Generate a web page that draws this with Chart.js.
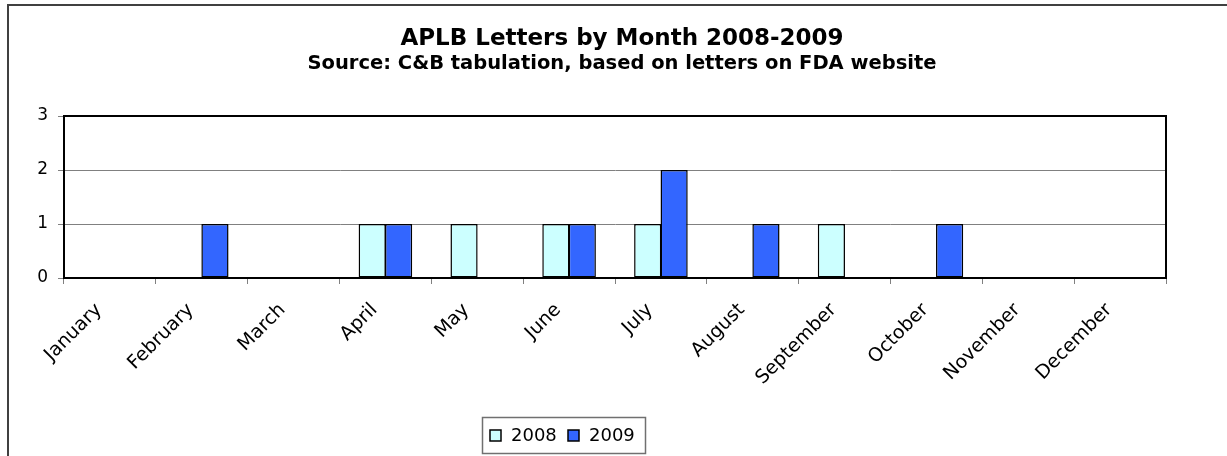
<!DOCTYPE html>
<html>
<head>
<meta charset="utf-8">
<script src="https://cdn.jsdelivr.net/npm/chart.js@4.4.1/dist/chart.umd.min.js"></script>
<style>
html,body{margin:0;padding:0;background:#fff;}
canvas{display:block;}
</style>
</head>
<body>
<canvas id="c" width="1227" height="456"></canvas>
<script>
// ---- data ----
const months = ['January','February','March','April','May','June','July','August','September','October','November','December'];
const letters2008 = [0,0,0,1,1,1,1,0,1,0,0,0];
const letters2009 = [0,1,0,1,0,1,2,1,0,1,0,0];
const yTicks = [0,1,2,3];
const seriesNames = ['2008','2009'];
const seriesColors = ['#CCFFFF','#3366FF'];
const titleText = 'APLB Letters by Month 2008-2009';
const subtitleText = 'Source: C&B tabulation, based on letters on FDA website';

const FONT = 'DejaVu Sans';

const decor = {
  id: 'decor',
  afterLayout(chart) {
    chart.boxes.filter(b => b.position === 'top').forEach(b => { b.left += 39; b.right += 39; });
  },
  beforeDraw(chart) {
    const ctx = chart.ctx;
    ctx.save();
    ctx.fillStyle = '#ffffff';
    ctx.fillRect(0, 0, chart.width, chart.height);
    ctx.strokeStyle = '#404040';
    ctx.lineWidth = 2;
    ctx.strokeRect(8, 5, 1300, 600);
    ctx.restore();
  },
  afterDatasetsDraw(chart) {
    const a = chart.chartArea, ctx = chart.ctx;
    ctx.save();
    ctx.strokeStyle = '#000';
    ctx.lineWidth = 2;
    ctx.strokeRect(a.left, a.top, a.right - a.left, a.bottom - a.top);
    ctx.restore();
  },
  afterDraw(chart) {
    const ctx = chart.ctx;
    ctx.save();
    ctx.strokeStyle = '#707070';
    ctx.lineWidth = 1.5;
    ctx.strokeRect(482.5, 417.5, 163, 36);
    ctx.font = '18px "' + FONT + '"';
    ctx.textBaseline = 'middle';
    ctx.textAlign = 'left';
    let x = 490;
    chart.data.datasets.forEach(ds => {
      ctx.fillStyle = ds.backgroundColor;
      ctx.fillRect(x, 430, 11, 11);
      ctx.strokeStyle = '#000';
      ctx.lineWidth = 1.5;
      ctx.strokeRect(x, 430, 11, 11);
      ctx.fillStyle = '#000';
      ctx.fillText(ds.label, x + 21, 436);
      x += 78;
    });
    ctx.restore();
  }
};

new Chart(document.getElementById('c'), {
  type: 'bar',
  data: {
    labels: months,
    datasets: [
      { label: seriesNames[0], data: letters2008, backgroundColor: seriesColors[0], borderColor: '#000', borderWidth: 1.5, borderSkipped: false, inflateAmount: 0 },
      { label: seriesNames[1], data: letters2009, backgroundColor: seriesColors[1], borderColor: '#000', borderWidth: 1.5, borderSkipped: false, inflateAmount: 0 }
    ]
  },
  options: {
    responsive: false,
    animation: false,
    devicePixelRatio: 1,
    layout: { padding: { left: 0, right: 61, top: 0, bottom: 0 } },
    datasets: { bar: { categoryPercentage: 0.575, barPercentage: 1.03 } },
    plugins: {
      legend: { display: false },
      tooltip: { enabled: false },
      title: {
        display: true, text: titleText, color: '#000',
        font: { family: FONT, size: 23, weight: 'bold', lineHeight: 1.2 },
        padding: { top: 25, bottom: 0 }
      },
      subtitle: {
        display: true, text: subtitleText, color: '#000',
        font: { family: FONT, size: 19.5, weight: 'bold', lineHeight: 1.2 },
        padding: { top: 0, bottom: 40 }
      }
    },
    scales: {
      x: {
        grid: { display: true, drawOnChartArea: false, drawTicks: true, tickLength: 6, color: '#808080', lineWidth: 1, offset: true },
        border: { display: true, color: '#000', width: 2 },
        ticks: { color: '#000', font: { family: FONT, size: 19 }, maxRotation: 45, minRotation: 45, autoSkip: false, padding: 15, labelOffset: -11 },
        afterFit(s) { s.height = 178; }
      },
      y: {
        min: 0, max: 3,
        afterBuildTicks(s) { s.ticks = yTicks.map(v => ({ value: v })); },
        grid: { color: '#808080', lineWidth: 1, drawTicks: true, tickLength: 6 },
        border: { display: true, color: '#000', width: 2 },
        ticks: { color: '#000', font: { family: FONT, size: 17 }, padding: 10 },
        afterFit(s) { s.width = 64; }
      }
    }
  },
  plugins: [decor]
});
</script>
</body>
</html>
